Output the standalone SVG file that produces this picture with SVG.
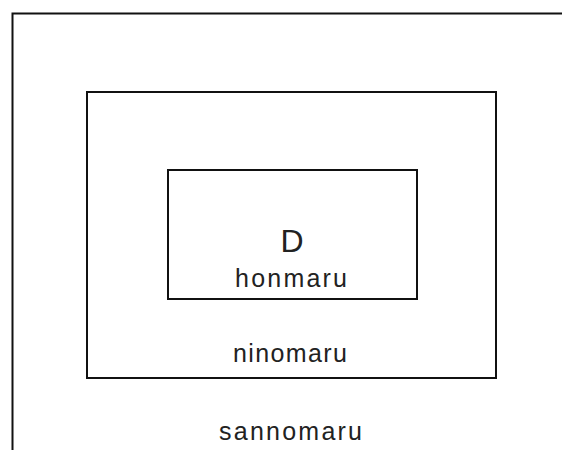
<svg xmlns="http://www.w3.org/2000/svg" width="562" height="450" viewBox="0 0 562 450">
<style>
.box{fill:none;stroke:#111;stroke-width:2}
.t{font-family:"Liberation Sans",Arial,sans-serif;fill:#222;text-anchor:middle;font-size:25px}
</style>
<rect width="562" height="450" fill="#fff"/>
<g id="sannomaru">
<path class="box" d="M562,13.5 H12.5 V450"/>
<text class="t" x="290.5" y="440" textLength="143" lengthAdjust="spacing">sannomaru</text>
</g>
<g id="ninomaru">
<rect class="box" x="87" y="92" width="409" height="286"/>
<text class="t" x="290" y="362" textLength="114" lengthAdjust="spacing">ninomaru</text>
</g>
<g id="honmaru">
<rect class="box" x="168" y="170" width="249" height="129"/>
<text class="t" x="292" y="252" style="font-size:32px">D</text>
<text class="t" x="291" y="287" textLength="112" lengthAdjust="spacing">honmaru</text>
</g>
<g id="connectors"/>
</svg>
